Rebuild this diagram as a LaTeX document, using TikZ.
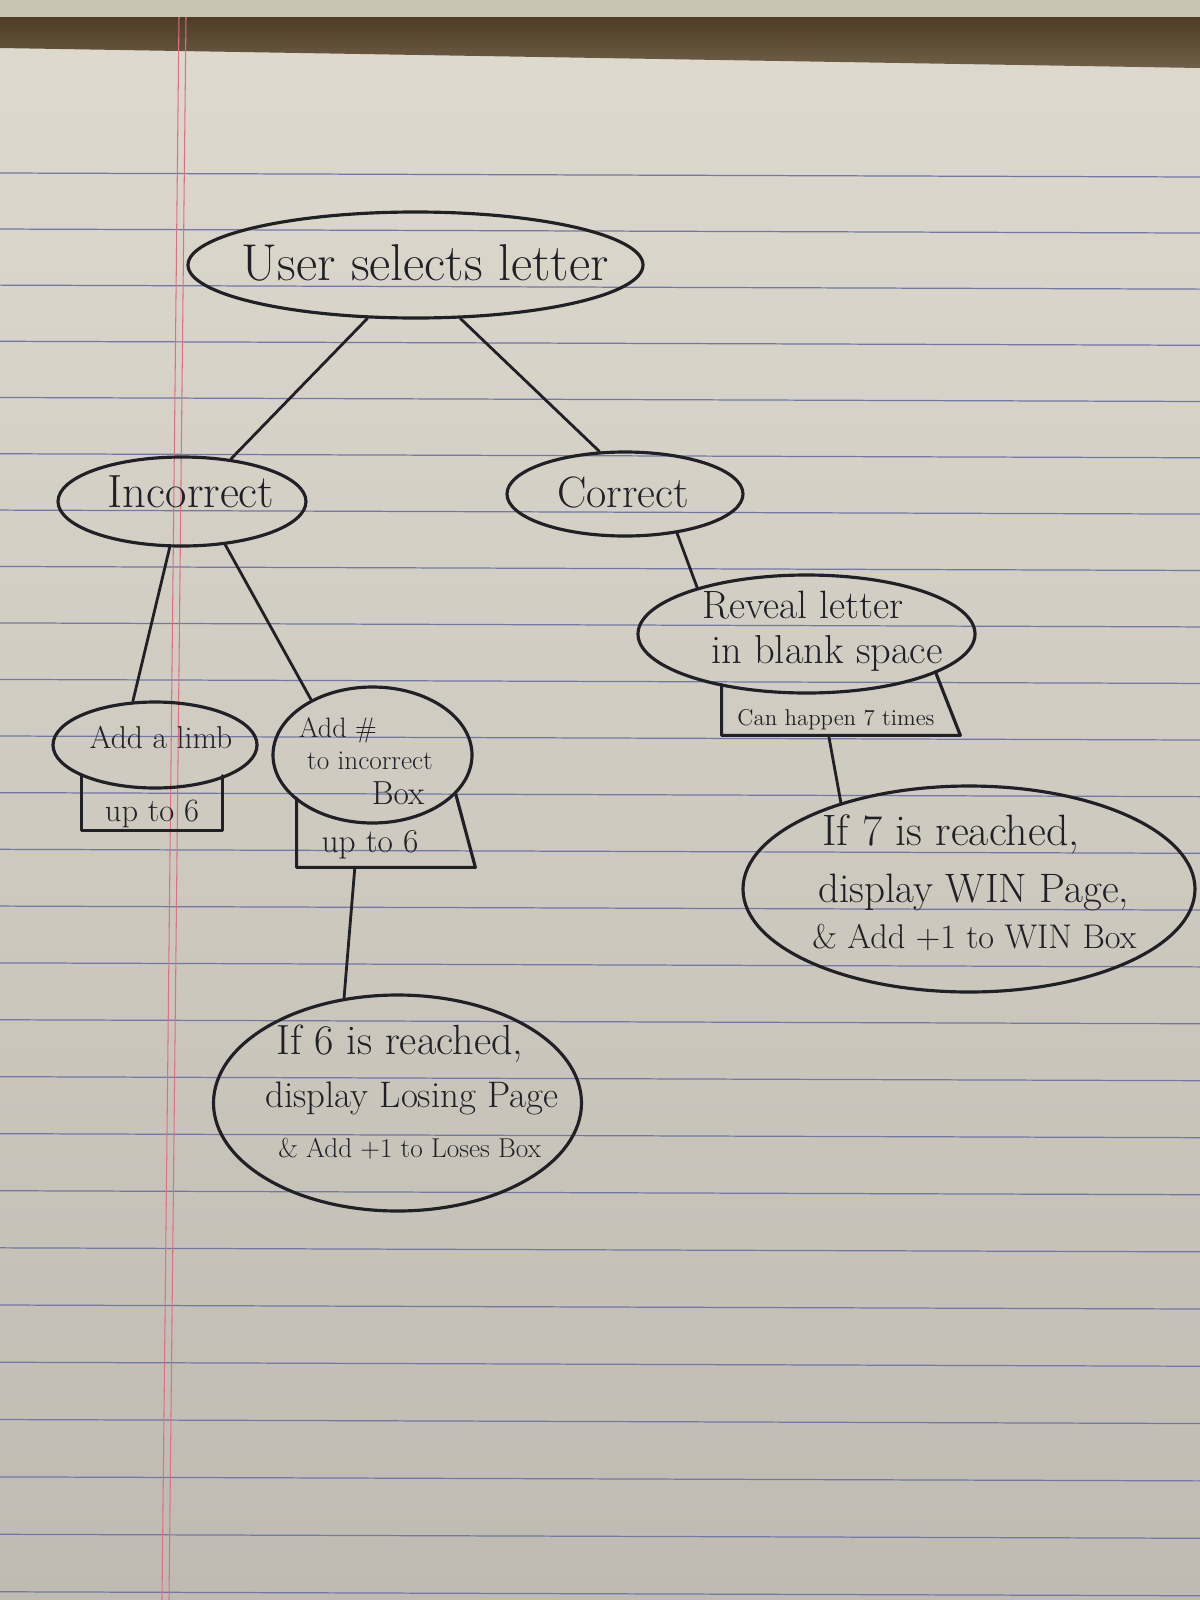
\documentclass[tikz,border=0pt]{standalone}
\usepackage{fontspec}
\usetikzlibrary{shapes.geometric,calc}
\definecolor{ink}{RGB}{32,32,38}
\definecolor{paperTop}{RGB}{222,217,205}
\definecolor{paperBot}{RGB}{192,187,178}
\definecolor{stripCol}{RGB}{200,196,178}
\definecolor{bandTop}{RGB}{78,60,38}
\definecolor{bandBot}{RGB}{112,96,72}
\definecolor{ruleBlue}{RGB}{112,120,168}
\definecolor{marginRed}{RGB}{222,112,132}
\def\PX{0.02cm}
\newcommand{\myfs}[1]{\fontsize{#1}{#1}\selectfont}
\tikzset{
  bub/.style={draw=ink, line width=1.8pt, ellipse, inner sep=0pt},
  boxn/.style={rectangle, inner sep=0pt},
  boxline/.style={draw=ink, line width=1.8pt, line join=round, line cap=round},
  conn/.style={draw=ink, line width=1.6pt, line cap=round},
  txt/.style={text=ink, inner sep=0pt, anchor=base},
  txtl/.style={text=ink, inner sep=0pt, anchor=base west},
  ruled/.style={draw=ruleBlue, line width=0.7pt},
  redmargin/.style={draw=marginRed, line width=0.6pt},
}
\begin{document}
\begin{tikzpicture}[x=0.02cm, y=-0.02cm]
\useasboundingbox (0,0) rectangle (1200,1600);
% paper background
\shade[top color=paperTop, bottom color=paperBot] (0,40) -- (1200,60) -- (1200,1600) -- (0,1600) -- cycle;
\fill[stripCol] (0,0) rectangle (1200,18);
\shade[top color=bandTop, bottom color=bandBot] (0,17) -- (1200,17) -- (1200,68) -- (0,48) -- cycle;
\foreach \k in {0,...,25} {
  \pgfmathsetmacro\yy{173+56*\k+0.03*\k*\k}
  \draw[ruled] (0,\yy) -- (1200,\yy+4);
}
\draw[redmargin] (179,17) -- (162,1600);
\draw[redmargin] (186,17) -- (169,1600);

% boxes (three sides; top side is the ellipse)
\node[boxn, minimum width=140*\PX, minimum height=54*\PX] (lbox) at (152,803) {};
\node[boxn, minimum width=178*\PX, minimum height=68.5*\PX] (nbox) at (386,832.75) {};
\node[boxn, minimum width=238*\PX, minimum height=50*\PX] (cbox) at (841,710) {};
\draw[boxline] (lbox.north west) -- (lbox.south west) -- (lbox.south east) -- (lbox.north east);
\draw[boxline] (nbox.north west) -- (nbox.south west) -- (nbox.south east) -- ($(nbox.north east)+(-20,-5.5)$);
\draw[boxline] (cbox.north west) -- (cbox.south west) -- (cbox.south east) -- ($(cbox.north east)+(-25,-13)$);

% ellipses
\node[bub, minimum width=455*\PX, minimum height=106*\PX] (user) at (415.5,265) {};
\node[bub, minimum width=248*\PX, minimum height=89*\PX] (inc) at (182,501.5) {};
\node[bub, minimum width=236*\PX, minimum height=84*\PX] (cor) at (625,494) {};
\node[bub, minimum width=337*\PX, minimum height=118*\PX] (rev) at (806.5,634) {};
\node[bub, minimum width=204*\PX, minimum height=86*\PX] (limb) at (155,745) {};
\node[bub, minimum width=199*\PX, minimum height=136*\PX] (addn) at (372.5,755) {};
\node[bub, minimum width=368*\PX, minimum height=216*\PX] (lose) at (397.5,1103) {};
\node[bub, minimum width=452*\PX, minimum height=206*\PX] (win) at (969,889) {};

% texts
\node[txt, font={\myfs{29.5}}] (userT) at (425,280) {User selects letter};
\node[txt, font={\myfs{26.5}}] (incT) at (191,507) {Incorrect};
\node[txt, font={\myfs{25}}] (corT) at (623,507) {Correct};
\node[txt, font={\myfs{22.5}}] (revT1) at (803,618) {Reveal letter};
\node[txt, font={\myfs{23}}] (revT2) at (827,663) {in blank space};
\node[txt, font={\myfs{13}}] (cboxT) at (836,725) {Can happen 7 times};
\node[txt, font={\myfs{18}}] (limbT) at (161,748) {Add a limb};
\node[txt, font={\myfs{18.5}}] (lboxT) at (152,821) {up to 6};
\node[txt, font={\myfs{16}}] (addT1) at (338,737) {Add \#};
\node[txt, font={\myfs{15.5}}] (addT2) at (370,769) {to incorrect};
\node[txt, font={\myfs{19}}] (addT3) at (398,804) {Box};
\node[txt, font={\myfs{19}}] (nboxT) at (370,852) {up to 6};
\node[txtl, font={\myfs{24}}] (loseT1) at (276,1054) {If 6 is reached,};
\node[txtl, font={\myfs{21}}] (loseT2) at (265,1107) {display Losing Page};
\node[txtl, font={\myfs{15.5}}] (loseT3) at (278,1157) {\& Add +1 to Loses Box};
\node[txtl, font={\myfs{25}}] (winT1) at (822,845) {If 7 is reached,};
\node[txtl, font={\myfs{23.4}}] (winT2) at (818,902) {display WIN Page,};
\node[txtl, font={\myfs{19.5}}] (winT3) at (812,948) {\& Add +1 to WIN Box};

% connectors
\draw[conn] (user.228) -- (inc.41);
\draw[conn] (user.310) -- (cor.121);
\draw[conn] (inc.255) -- (limb.117);
\draw[conn] (inc.315) -- (addn.138);
\draw[conn] (cor.323) -- (rev.157);
\draw[conn] (cbox.244) -- (win.146);
\draw[conn] (nbox.228) -- (lose.117);
\end{tikzpicture}
\end{document}
